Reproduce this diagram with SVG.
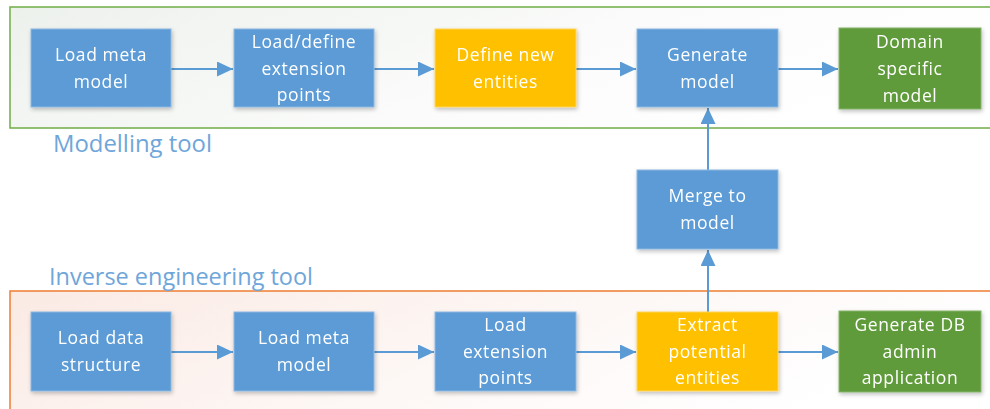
<svg xmlns="http://www.w3.org/2000/svg" width="990" height="409" viewBox="0 0 990 409">
<defs>
<linearGradient id="gTop" x1="0" y1="0" x2="1" y2="0.3">
<stop offset="0" stop-color="#EDF1EC"/>
<stop offset="0.6" stop-color="#FAFBFA"/>
<stop offset="1" stop-color="#FFFFFF"/>
</linearGradient>
<linearGradient id="gBot" x1="0" y1="0" x2="1" y2="0.3">
<stop offset="0" stop-color="#FBEAE4"/>
<stop offset="0.6" stop-color="#FDF8F6"/>
<stop offset="1" stop-color="#FFFFFF"/>
</linearGradient>
<filter id="sh" x="-10%" y="-10%" width="130%" height="130%">
<feGaussianBlur in="SourceAlpha" stdDeviation="2"/>
<feOffset dx="1" dy="2"/>
<feComponentTransfer><feFuncA type="linear" slope="0.25"/></feComponentTransfer>
<feMerge><feMergeNode/><feMergeNode in="SourceGraphic"/></feMerge>
</filter>
<marker id="ah" viewBox="0 0 10 10" refX="10" refY="5" markerWidth="8" markerHeight="7.5" orient="auto" markerUnits="strokeWidth" preserveAspectRatio="none">
<path d="M0,0 L10,5 L0,10 z" fill="#5B9BD5"/>
</marker>
</defs>
<style>
.blue{fill:#5B9BD5;stroke:#8DB8E3;stroke-width:1}
.yellow{fill:#FFC000;stroke:#FFD45C;stroke-width:1}
.green{fill:#609B3B;stroke:#86B36A;stroke-width:1}
.t{font-family:"Segoe UI","Open Sans","Noto Sans",sans-serif;font-size:17.5px;letter-spacing:0.6px;fill:#FFFFFF;text-anchor:middle}
.lbl{font-family:"Segoe UI","Open Sans","Noto Sans",sans-serif;font-size:23px;fill:#6FA6DA}
.c{stroke:#5B9BD5;stroke-width:2;fill:none;marker-end:url(#ah)}
</style>

<g id="modelling-tool">
<rect x="10" y="7" width="985" height="121" fill="url(#gTop)" stroke="#70AD47" stroke-width="1.5"/>
<text class="lbl" x="53" y="152" textLength="159" lengthAdjust="spacingAndGlyphs">Modelling tool</text>
</g>
<g id="inverse-engineering-tool">
<rect x="10" y="291" width="985" height="125" fill="url(#gBot)" stroke="#ED7D31" stroke-width="1.5"/>
<text class="lbl" x="49" y="285" textLength="264" lengthAdjust="spacingAndGlyphs">Inverse engineering tool</text>
</g>

<g id="connectors">
<line class="c" x1="171" y1="69" x2="233" y2="69"/>
<line class="c" x1="374" y1="69" x2="434" y2="69"/>
<line class="c" x1="576" y1="69" x2="636" y2="69"/>
<line class="c" x1="778" y1="69" x2="838" y2="69"/>
<line class="c" x1="708" y1="170" x2="708" y2="108"/>
<line class="c" x1="708" y1="312" x2="708" y2="250"/>
<line class="c" x1="171" y1="352" x2="233" y2="352"/>
<line class="c" x1="374" y1="352" x2="434" y2="352"/>
<line class="c" x1="576" y1="352" x2="636" y2="352"/>
<line class="c" x1="778" y1="352" x2="838" y2="352"/>
</g>

<g id="load-meta-model-top" filter="url(#sh)">
<rect class="blue" x="31" y="29" width="140" height="78"/>
<text class="t" x="101" y="61">Load meta</text>
<text class="t" x="101" y="88">model</text>
</g>
<g id="load-define-extension-points" filter="url(#sh)">
<rect class="blue" x="234" y="29" width="140" height="78"/>
<text class="t" x="304" y="48">Load/define</text>
<text class="t" x="304" y="75">extension</text>
<text class="t" x="304" y="101">points</text>
</g>
<g id="define-new-entities" filter="url(#sh)">
<rect class="yellow" x="435" y="29" width="141" height="78"/>
<text class="t" x="505.5" y="61">Define new</text>
<text class="t" x="505.5" y="88">entities</text>
</g>
<g id="generate-model" filter="url(#sh)">
<rect class="blue" x="637" y="29" width="141" height="78"/>
<text class="t" x="707.5" y="61">Generate</text>
<text class="t" x="707.5" y="88">model</text>
</g>
<g id="domain-specific-model" filter="url(#sh)">
<rect class="green" x="839" y="28" width="142" height="81"/>
<text class="t" x="910" y="48">Domain</text>
<text class="t" x="910" y="75">specific</text>
<text class="t" x="910" y="102">model</text>
</g>
<g id="merge-to-model" filter="url(#sh)">
<rect class="blue" x="637" y="170" width="141" height="79"/>
<text class="t" x="707.5" y="202">Merge to</text>
<text class="t" x="707.5" y="229">model</text>
</g>
<g id="load-data-structure" filter="url(#sh)">
<rect class="blue" x="31" y="312" width="140" height="79"/>
<text class="t" x="101" y="344">Load data</text>
<text class="t" x="101" y="371">structure</text>
</g>
<g id="load-meta-model-bottom" filter="url(#sh)">
<rect class="blue" x="234" y="312" width="140" height="79"/>
<text class="t" x="304" y="344">Load meta</text>
<text class="t" x="304" y="371">model</text>
</g>
<g id="load-extension-points" filter="url(#sh)">
<rect class="blue" x="435" y="312" width="141" height="79"/>
<text class="t" x="505.5" y="331">Load</text>
<text class="t" x="505.5" y="358">extension</text>
<text class="t" x="505.5" y="384">points</text>
</g>
<g id="extract-potential-entities" filter="url(#sh)">
<rect class="yellow" x="637" y="312" width="141" height="79"/>
<text class="t" x="707.5" y="331">Extract</text>
<text class="t" x="707.5" y="358">potential</text>
<text class="t" x="707.5" y="384">entities</text>
</g>
<g id="generate-db-admin-application" filter="url(#sh)">
<rect class="green" x="839" y="311" width="142" height="81"/>
<text class="t" x="910" y="331">Generate DB</text>
<text class="t" x="910" y="358">admin</text>
<text class="t" x="910" y="384">application</text>
</g>
</svg>
